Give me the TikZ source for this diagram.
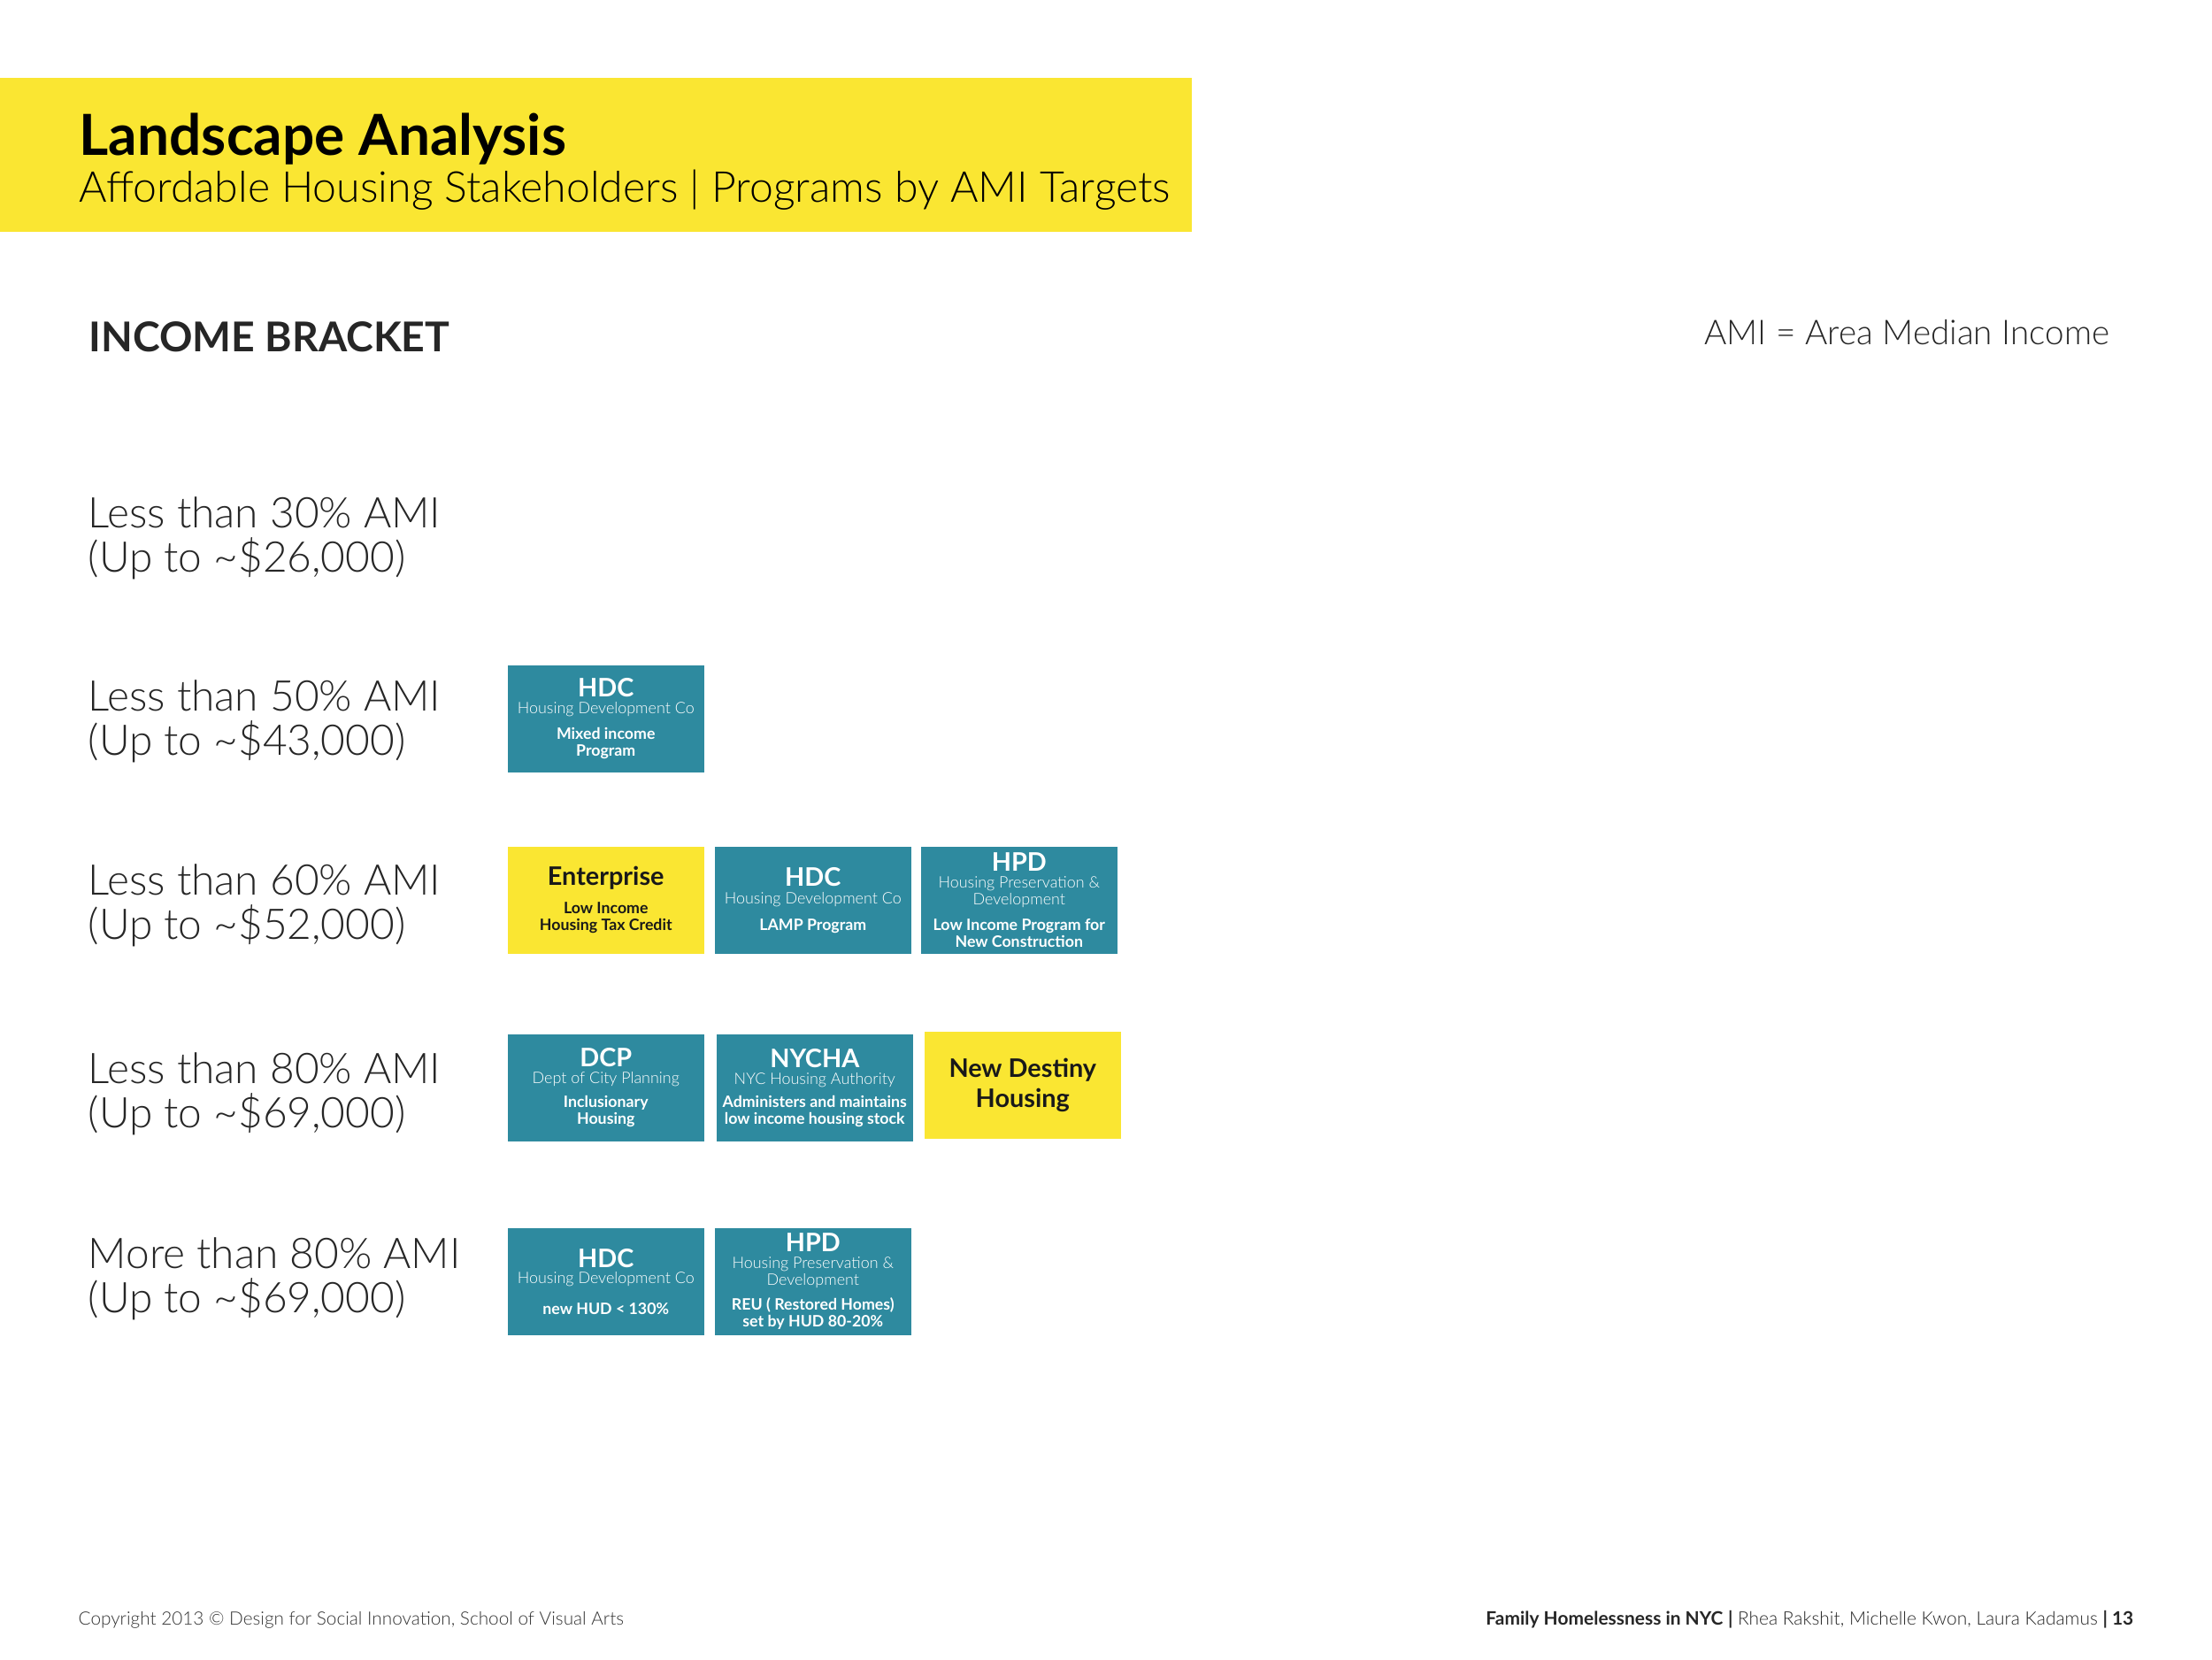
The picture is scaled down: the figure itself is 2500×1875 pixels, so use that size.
\documentclass[tikz,border=0pt]{standalone}
\usepackage{fontspec}
\setmainfont{Lato Light}[BoldFont=Lato Bold]

\definecolor{amiteal}{RGB}{46,138,159}
\definecolor{amiyellow}{RGB}{250,230,50}

\newcommand\progHead[1]{{\fontsize{8.2}{8.5}\selectfont\bfseries #1}}
\newcommand\progSub[1]{{\fontsize{5.1}{5.4}\selectfont #1}}
\newcommand\progDet[1]{{\fontsize{5.05}{5.4}\selectfont\bfseries #1}}

\begin{document}
\begin{tikzpicture}[x=0.01cm,y=-0.01cm,
	prog/.style={fill=amiteal,text=white,minimum width=2.22cm,minimum height=1.21cm,
		inner sep=0pt,align=center,anchor=north west,font=\fontsize{5}{5.4}\selectfont},
	progyel/.style={prog,fill=amiyellow,text=black!90},
	rowlab/.style={anchor=west,align=left,inner sep=0pt,text=black!85,
		font=\fontsize{13.6}{14.3}\selectfont}]

\useasboundingbox (0,0) rectangle (2500,1875);
\fill[white] (0,0) rectangle (2500,1875);

% header band
\fill[amiyellow] (0,88) rectangle (1347,262);
\node[anchor=base west,inner sep=0pt,font=\fontsize{18.2}{18}\selectfont\bfseries] (title) at (89,175) {Landscape Analysis};
\node[anchor=base west,inner sep=0pt,font=\fontsize{13.7}{13.7}\selectfont] (subtitle) at (89,228)
	{Affordable Housing Stakeholders | Programs by AMI Targets};

\node[anchor=base west,inner sep=0pt,font=\fontsize{13.2}{13.2}\selectfont\bfseries,text=black!85] (bracket) at (100,397) {INCOME BRACKET};
\node[anchor=base east,inner sep=0pt,font=\fontsize{11}{11}\selectfont,text=black!85] (amidef) at (2385,389) {AMI = Area Median Income};

\foreach \nm/\pct/\amt/\yy in {r30/{Less than 30\% AMI}/{26,000}/608,
		r50/{Less than 50\% AMI}/{43,000}/815,
		r60/{Less than 60\% AMI}/{52,000}/1023,
		r80/{Less than 80\% AMI}/{69,000}/1236,
		rmore/{More than 80\% AMI}/{69,000}/1445}{
	\node[rowlab] (\nm) at (99,\yy) {\pct\\(Up to \textasciitilde\$\amt)};
}

% 50%
\node[prog] (hdcmix) at (573,751) {\progHead{HDC}\\\progSub{Housing Development Co}\\[2.7pt]\progDet{Mixed income}\\\progDet{Program}};

% 60%
\node[progyel] (enterprise) at (573,956) {\progHead{Enterprise}\\[3.7pt]\progDet{Low Income}\\\progDet{Housing Tax Credit}};
\node[prog] (hdclamp) at (807,956) {\progHead{HDC}\\[0.4pt]\progSub{Housing Development Co}\\[3pt]\progDet{LAMP Program}};
\node[prog] (hpdnew) at (1040,956) {\progHead{HPD}\\\progSub{Housing Preservation \&}\\\progSub{Development}\\[2.7pt]\progDet{Low Income Program for}\\\progDet{New Construction}};

% 80%
\node[prog] (dcp) at (573,1168) {\progHead{DCP}\\\progSub{Dept of City Planning}\\[2.4pt]\progDet{Inclusionary}\\\progDet{Housing}};
\node[prog] (nycha) at (809,1168) {\progHead{NYCHA}\\\progSub{NYC Housing Authority}\\[1.9pt]\progDet{Administers and maintains}\\\progDet{low income housing stock}};
\node[progyel] (destiny) at (1044,1165) {\progHead{New Destiny}\\[1pt]\progHead{Housing}};

% more than 80%
\node[prog] (hdchud) at (573,1387) {\progHead{HDC}\\\progSub{Housing Development Co}\\[4.4pt]\progDet{new HUD < 130\%}};
\node[prog] (hpdreu) at (807,1387) {\progHead{HPD}\\\progSub{Housing Preservation \&}\\\progSub{Development}\\[2.7pt]\progDet{REU ( Restored Homes)}\\\progDet{set by HUD 80-20\%}};

% footer
\node[anchor=base west,inner sep=0pt,font=\fontsize{5.9}{6}\selectfont,text=black!80] (copy) at (88,1836)
	{Copyright 2013 © Design for Social Innovation, School of Visual Arts};
\node[anchor=base east,inner sep=0pt,font=\fontsize{5.95}{6}\selectfont,text=black!85] (credits) at (2412,1836)
	{\textbf{Family Homelessness in NYC} \textbf{|} Rhea Rakshit, Michelle Kwon, Laura Kadamus \textbf{| 13}};

\end{tikzpicture}
\end{document}
